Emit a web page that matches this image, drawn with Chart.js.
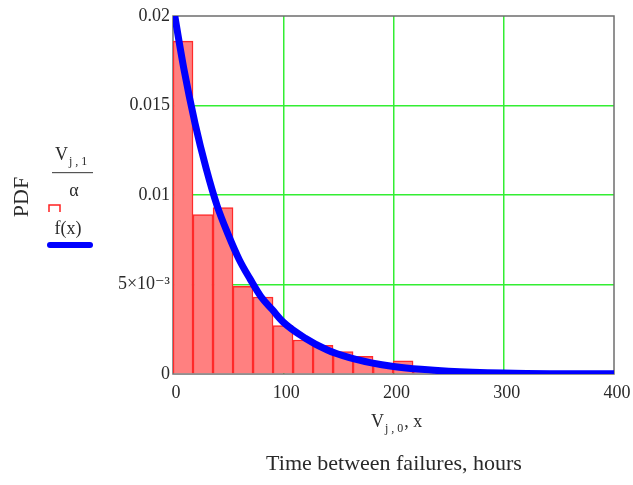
<!DOCTYPE html>
<html>
<head>
<meta charset="utf-8">
<script src="https://cdn.jsdelivr.net/npm/chart.js@4"></script>
<style>
  html, body { margin: 0; padding: 0; background: #fff; }
  #wrap { width: 633px; height: 485px; }
</style>
</head>
<body>
<div id="wrap"><canvas id="pdfChart" width="633" height="485"></canvas></div>
<script>
// histogram bins (hours) and relative frequency / bin width
const binCenters = [9.1, 27.2, 45.4, 63.5, 81.7, 99.8, 118.0, 136.1, 154.3, 172.4, 190.6, 208.7, 226.9, 245.0];
const binHeights = [0.0186, 0.0089, 0.0093, 0.0049, 0.0043, 0.0027, 0.0019, 0.0016, 0.00125, 0.00099, 0.0006, 0.00073, 0.0003, 0.0001];

// fitted density curve f(x)
const curveX = [0, 10, 20, 30, 40, 50, 60, 70, 80, 90, 100, 120, 140, 160, 180, 200, 225, 250, 300, 350, 400];
const curveY = [0.0206, 0.0170, 0.0140, 0.0115, 0.0094, 0.0078, 0.0064, 0.0053, 0.0043, 0.0036, 0.0029, 0.0020, 0.00134, 0.00091, 0.00062, 0.00042, 0.00026, 0.00016, 0.00006, 0.00002, 0.00001];

const xTicks = [0, 100, 200, 300, 400];
const yTickLabels = ['0', '5\u00d710\u207b\u00b3', '0.01', '0.015', '0.02'];

const serif = '"Liberation Serif", "DejaVu Serif", serif';

// draws the gray frame under the bars
const frameBox = {
    id: 'frameBox',
    beforeDatasetsDraw(chart) {
        const { ctx, chartArea: a } = chart;
        ctx.save();
        ctx.strokeStyle = '#6e6e6e';
        ctx.lineWidth = 1.5;
        ctx.strokeRect(a.left, a.top, a.right - a.left, a.bottom - a.top);
        ctx.restore();
    }
};

// writes "V" with a subscript, then the rest, starting at x
function subText(ctx, x, y, main, sub, tail) {
    ctx.textAlign = 'left';
    ctx.font = '18px ' + serif;
    ctx.fillText(main, x, y);
    x += ctx.measureText(main).width + 1;
    ctx.font = '12px ' + serif;
    ctx.fillText(sub, x, y + 7);
    x += ctx.measureText(sub).width + 1;
    if (tail) {
        ctx.font = '18px ' + serif;
        ctx.fillText(tail, x, y);
    }
}

// Mathcad style axis labels
const labels = {
    id: 'labels',
    afterDraw(chart) {
        const ctx = chart.ctx;
        ctx.save();
        ctx.fillStyle = '#2a2a2a';
        ctx.textBaseline = 'middle';

        // PDF
        ctx.save();
        ctx.translate(22, 197);
        ctx.rotate(-Math.PI / 2);
        ctx.textAlign = 'center';
        ctx.font = '22px ' + serif;
        ctx.fillText('PDF', 0, 0);
        ctx.restore();

        // V_{j,1} / alpha
        subText(ctx, 55, 155, 'V', 'j , 1', '');
        ctx.fillStyle = '#555';
        ctx.fillRect(52, 172, 41, 1.2);
        ctx.fillStyle = '#2a2a2a';
        ctx.font = '18px ' + serif;
        ctx.textAlign = 'center';
        ctx.fillText('\u03b1', 74, 191);

        // red bar marker
        ctx.strokeStyle = '#ff2020';
        ctx.lineWidth = 1.5;
        ctx.beginPath();
        ctx.moveTo(49, 212);
        ctx.lineTo(49, 205);
        ctx.lineTo(60, 205);
        ctx.lineTo(60, 212);
        ctx.stroke();

        // f(x) + blue line
        ctx.font = '18px ' + serif;
        ctx.fillText('f(x)', 68, 229);
        ctx.strokeStyle = '#0000ff';
        ctx.lineWidth = 6;
        ctx.lineCap = 'round';
        ctx.beginPath();
        ctx.moveTo(50, 245);
        ctx.lineTo(90, 245);
        ctx.stroke();

        // x axis labels
        subText(ctx, 371, 422, 'V', 'j , 0', ', x');

        ctx.textAlign = 'center';
        ctx.font = '22px ' + serif;
        ctx.fillText('Time between failures, hours', 394, 464);
        ctx.restore();
    }
};

const ctx = document.getElementById('pdfChart').getContext('2d');
const pdfChart = new Chart(ctx, {
    type: 'bar',
    data: {
        datasets: [
            {
                type: 'line',
                label: 'f(x)',
                data: curveX.map((x, i) => ({ x: x, y: curveY[i] })),
                borderColor: '#0000ff',
                borderWidth: 7,
                pointRadius: 0,
                cubicInterpolationMode: 'monotone',
                fill: false,
                order: 0,
            },
            {
                type: 'bar',
                label: 'V/alpha',
                data: binCenters.map((x, i) => ({ x: x, y: binHeights[i] })),
                backgroundColor: '#ff8080',
                borderColor: '#ff2a2a',
                borderWidth: 1.5,
                barPercentage: 1,
                categoryPercentage: 1,
                order: 1,
            },
        ],
    },
    options: {
        responsive: false,
        animation: false,
        layout: { padding: { top: 16, right: 19, left: 0, bottom: 0 } },
        plugins: {
            legend: { display: false },
            tooltip: { enabled: false },
        },
        scales: {
            x: {
                type: 'linear',
                offset: false,
                min: 0,
                max: 400,
                afterBuildTicks: s => { s.ticks = xTicks.map(v => ({ value: v })); },
                afterFit: s => { s.height = 111; s.paddingLeft = 0; s.paddingRight = 0; },
                border: { display: false },
                grid: {
                    offset: false,
                    color: c => (c.index === 0 || c.index === xTicks.length - 1) ? 'rgba(0,0,0,0)' : '#33ee33',
                    lineWidth: 1.5,
                    drawTicks: false,
                },
                ticks: {
                    color: '#2a2a2a',
                    padding: 8,
                    labelOffset: 3,
                    maxRotation: 0,
                    font: { family: serif, size: 18 },
                },
            },
            y: {
                min: 0,
                max: 0.02,
                afterBuildTicks: s => { s.ticks = yTickLabels.map((t, i) => ({ value: i * 0.005 })); },
                afterFit: s => { s.width = 173; s.paddingTop = 0; s.paddingBottom = 0; },
                border: { display: false },
                grid: {
                    color: c => (c.index === 0 || c.index === yTickLabels.length - 1) ? 'rgba(0,0,0,0)' : '#33ee33',
                    lineWidth: 1.5,
                    drawTicks: false,
                },
                ticks: {
                    color: '#2a2a2a',
                    padding: 3,
                    font: { family: serif, size: 18 },
                    callback: (v, i) => yTickLabels[i],
                },
            },
        },
    },
    plugins: [frameBox, labels],
});
</script>
</body>
</html>
